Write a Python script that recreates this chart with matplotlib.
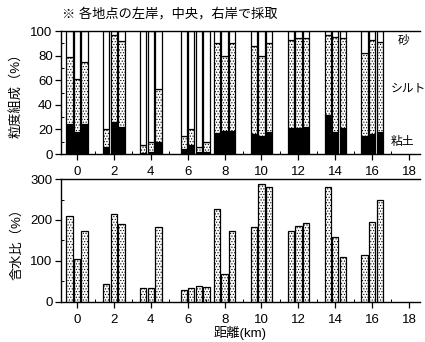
import numpy as np
import matplotlib
matplotlib.use("Agg")
import matplotlib.pyplot as plt
from matplotlib.ticker import MultipleLocator

plt.rcParams['font.family'] = ['Liberation Sans', 'Noto Sans CJK JP', 'DejaVu Sans']
plt.rcParams['hatch.linewidth'] = 0.5

# sampling points along the river (km); the 6 km station has four samples
sites_km = [0, 2, 4, 6.4, 8, 10, 12, 14, 16]

# grain size composition (%) for left bank / centre / right bank
clay = [[24, 18, 24], [6, 26, 22], [1, 2, 10], [4, 7, 2, 2], [17, 19, 19],
        [16, 15, 18], [21, 21, 22], [32, 18, 21], [15, 16, 18]]
silt = [[55, 43, 51], [14, 71, 70], [6, 8, 43], [11, 13, 4, 8], [73, 61, 71],
        [72, 65, 72], [72, 73, 72], [65, 77, 73], [67, 77, 73]]

# water content (%)
water = [[209, 104, 173], [45, 214, 191], [33, 35, 183], [29, 35, 38, 37],
         [226, 69, 173], [182, 288, 281], [173, 185, 192], [280, 158, 109],
         [115, 194, 250]]

layer_labels = ["砂", "シルト", "粘土"]
note = "※ 各地点の左岸，中央，右岸で採取"

BAR_STEP = 0.41
BAR_W = 0.34


def bar_positions(center, n):
    return center + (np.arange(n) - (n - 1) / 2) * BAR_STEP


def style_axis(ax, ymax, ystep, yminor):
    ax.set_xlim(-0.87, 18.6)
    ax.set_ylim(0, ymax)
    ax.xaxis.set_major_locator(MultipleLocator(2))
    ax.xaxis.set_minor_locator(MultipleLocator(1))
    ax.yaxis.set_major_locator(MultipleLocator(ystep))
    ax.yaxis.set_minor_locator(MultipleLocator(yminor))
    ax.tick_params(which="major", direction="out", length=4, width=0.9,
                   labelsize=9.5, pad=2)
    ax.tick_params(axis="x", which="major", pad=4.5)
    ax.tick_params(which="minor", direction="in", length=2.5, width=0.7)
    ax.spines["right"].set_visible(False)
    for s in ("left", "bottom", "top"):
        ax.spines[s].set_linewidth(1.0)


fig = plt.figure(figsize=(4.25, 3.42), dpi=100)
ax1 = fig.add_axes([0.1435, 0.5497, 0.845, 0.3596])
ax2 = fig.add_axes([0.1435, 0.117, 0.845, 0.3596])

for site, c_vals, s_vals in zip(sites_km, clay, silt):
    xs = bar_positions(site, len(c_vals))
    c = np.array(c_vals)
    s = np.array(s_vals)
    sand = 100 - c - s
    ax1.bar(xs, c, BAR_W, color="black", edgecolor="black", linewidth=0.9)
    ax1.bar(xs, s, BAR_W, bottom=c, color="white", edgecolor="black",
            hatch="......", linewidth=0.9)
    ax1.bar(xs, sand, BAR_W, bottom=c + s, color="white", edgecolor="black",
            linewidth=0.9)

for site, w_vals in zip(sites_km, water):
    xs = bar_positions(site, len(w_vals))
    ax2.bar(xs, w_vals, BAR_W, color="white", edgecolor="black",
            hatch="......", linewidth=0.9)

style_axis(ax1, 100, 20, 10)
style_axis(ax2, 300, 100, 50)

ax1.set_ylabel("粒度組成（%）", fontsize=9.5, labelpad=5)
ax2.set_ylabel("含水比（%）", fontsize=9.5, labelpad=5)
ax2.set_xlabel("距離(km)", fontsize=9.5, labelpad=0)

# layer names next to the stacked bars
for label, y, x in zip(layer_labels, [92, 53, 10], [17.4, 17.0, 17.0]):
    ax1.text(x, y, label, fontsize=8.5, ha="left", va="center")

fig.text(0.146, 0.958, note, fontsize=9.5, ha="left", va="center")

fig.savefig("out.png", dpi=100)
